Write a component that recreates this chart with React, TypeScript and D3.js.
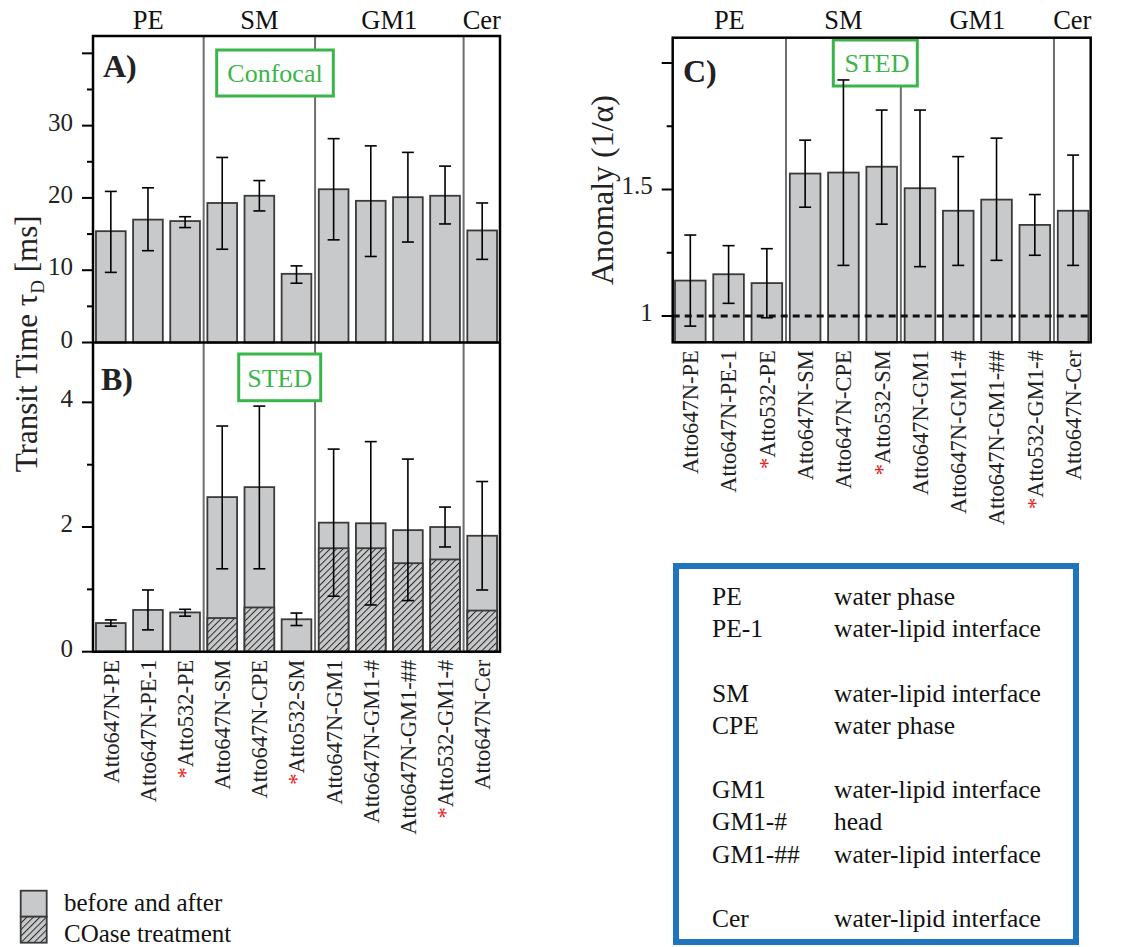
import React from "react";
import * as d3 from "d3";

// samples (a leading * is drawn as a red asterisk)
const samples = [
  "Atto647N-PE", "Atto647N-PE-1", "*Atto532-PE",
  "Atto647N-SM", "Atto647N-CPE", "*Atto532-SM",
  "Atto647N-GM1", "Atto647N-GM1-#", "Atto647N-GM1-##", "*Atto532-GM1-#",
  "Atto647N-Cer",
];
const lipidGroups = ["PE", "SM", "GM1", "Cer"];
const groupSizes = [3, 3, 4, 1];

// A) confocal transit time [ms]
const confocalTau = [15.4, 17.0, 16.8, 19.3, 20.3, 9.5, 21.2, 19.6, 20.1, 20.3, 15.5];
const confocalLow = [9.7, 12.7, 15.9, 12.9, 18.2, 8.2, 14.2, 11.9, 13.9, 16.4, 11.5];
const confocalHigh = [20.9, 21.4, 17.4, 25.6, 22.4, 10.6, 28.2, 27.2, 26.3, 24.4, 19.3];

// B) STED transit time [ms], hatched part = after COase treatment
const stedTau = [0.46, 0.67, 0.63, 2.48, 2.64, 0.52, 2.07, 2.06, 1.95, 2.0, 1.86];
const stedTauCOase = [0, 0, 0, 0.54, 0.71, 0, 1.66, 1.66, 1.42, 1.48, 0.66];
const stedLow = [0.41, 0.35, 0.57, 1.33, 1.33, 0.42, 0.89, 0.75, 0.82, 1.68, 0.99];
const stedHigh = [0.51, 0.99, 0.68, 3.62, 3.94, 0.62, 3.25, 3.37, 3.09, 2.32, 2.73];

// C) anomaly 1/alpha
const anomaly = [1.14, 1.165, 1.13, 1.563, 1.567, 1.59, 1.505, 1.416, 1.46, 1.36, 1.416];
const anomalyLow = [0.96, 1.05, 0.993, 1.43, 1.2, 1.363, 1.195, 1.2, 1.22, 1.24, 1.2];
const anomalyHigh = [1.32, 1.278, 1.266, 1.695, 1.933, 1.814, 1.814, 1.63, 1.703, 1.48, 1.636];

// probe position table
const legendKeys = ["PE", "PE-1", "", "SM", "CPE", "", "GM1", "GM1-#", "GM1-##", "", "Cer"];
const legendDesc = [
  "water phase", "water-lipid interface", "",
  "water-lipid interface", "water phase", "",
  "water-lipid interface", "head", "water-lipid interface", "",
  "water-lipid interface",
];

const FONT = "'Liberation Serif', 'DejaVu Serif', serif";
const BAR_FILL = "#c8c9cb";
const BAR_STROKE = "#3a3a3a";
const GREEN = "#3ab54a";
const BLUE = "#1f75bd";

function groupBounds(x) {
  // start / end pixel of each lipid group, halfway into the band gaps
  const gap = (x.step() - x.bandwidth()) / 2;
  let i = 0;
  return groupSizes.map((n, g) => {
    const first = i;
    const last = i + n - 1;
    i += n;
    const r = x.range();
    const a = g === 0 ? r[0] : x(first) - gap;
    const b = g === groupSizes.length - 1 ? r[1] : x(last) + x.bandwidth() + gap;
    return [a, b];
  });
}

function YAxis({ x0, y, major, minor, labels }) {
  return (
    <g>
      {major.map((v, i) => (
        <g key={"M" + v}>
          <line x1={x0 - 11} x2={x0} y1={y(v)} y2={y(v)} stroke="#000" strokeWidth={2} />
          {labels[i] !== "" && (
            <text x={x0 - 20} y={y(v)} dy="0.2em" textAnchor="end" fontSize={25} fill="#222">
              {labels[i]}
            </text>
          )}
        </g>
      ))}
      {minor.map((v) => (
        <line key={"m" + v} x1={x0 - 6} x2={x0} y1={y(v)} y2={y(v)} stroke="#000" strokeWidth={2} />
      ))}
    </g>
  );
}

function Bars({ x, y, values, low, high, hatched }) {
  const base = y.domain()[0];
  return (
    <g>
      {values.map((v, i) => (
        <rect key={"b" + i} x={x(i)} y={y(v)} width={x.bandwidth()} height={y(base) - y(v)}
          fill={BAR_FILL} stroke={BAR_STROKE} strokeWidth={1.8} />
      ))}
      {hatched && hatched.map((v, i) => v > 0 && (
        <rect key={"h" + i} x={x(i)} y={y(v)} width={x.bandwidth()} height={y(base) - y(v)}
          fill="url(#hatch)" stroke={BAR_STROKE} strokeWidth={1.8} />
      ))}
      {values.map((v, i) => {
        const cx = x(i) + x.bandwidth() / 2;
        return (
          <g key={"e" + i} stroke="#000" strokeWidth={1.6}>
            <line x1={cx} x2={cx} y1={y(high[i])} y2={y(low[i])} />
            <line x1={cx - 6} x2={cx + 6} y1={y(high[i])} y2={y(high[i])} />
            <line x1={cx - 6} x2={cx + 6} y1={y(low[i])} y2={y(low[i])} />
          </g>
        );
      })}
    </g>
  );
}

function Dividers({ x, y0, y1 }) {
  const b = groupBounds(x);
  return (
    <g>
      {b.slice(1).map((d, i) => (
        <line key={i} x1={d[0]} x2={d[0]} y1={y0} y2={y1} stroke="#6e6e6e" strokeWidth={2} />
      ))}
    </g>
  );
}

function GroupHeaders({ x, yText }) {
  const b = groupBounds(x);
  return (
    <g>
      {lipidGroups.map((g, i) => (
        <text key={g} x={(b[i][0] + b[i][1]) / 2} y={yText} textAnchor="middle" fontSize={26.5} fill="#111">
          {g}
        </text>
      ))}
    </g>
  );
}

function SampleLabels({ x, yTop }) {
  return (
    <g>
      {samples.map((s, i) => {
        const cx = x(i) + x.bandwidth() / 2;
        const star = s.startsWith("*");
        return (
          <text key={s} transform={`translate(${cx},${yTop}) rotate(-90)`} dy="0.35em"
            textAnchor="end" fontSize={22.5} fill="#222">
            {star && <tspan fill="#e8231f">*</tspan>}
            {star ? s.slice(1) : s}
          </text>
        );
      })}
    </g>
  );
}

function TagBox({ x, y, w, h, label, tx, ty }) {
  return (
    <g>
      <rect x={x} y={y} width={w} height={h} fill="#fff" stroke={GREEN} strokeWidth={3} />
      <text x={tx} y={ty} textAnchor="middle" fontSize={26} fill={GREEN}>{label}</text>
    </g>
  );
}

export default function App() {
  const idx = d3.range(samples.length);

  // left column (A + B)
  const L = { x0: 93, x1: 500, aTop: 36, mid: 342.5, bBot: 651.7 };
  const xL = d3.scaleBand().domain(idx).range([L.x0, L.x1]).paddingInner(0.2).paddingOuter(0.08);
  const yA = d3.scaleLinear().domain([0, 42.4]).range([L.mid, L.aTop]);
  const yB = d3.scaleLinear().domain([0, 4.96]).range([L.bBot, L.mid]);

  // right panel C
  const R = { x0: 672.7, x1: 1090.7, top: 37.7, bot: 342.3 };
  const xR = d3.scaleBand().domain(idx).range([R.x0, R.x1]).paddingInner(0.2).paddingOuter(0.06);
  const yC = d3.scaleLinear().domain([0.896, 2.1]).range([R.bot, R.top]);

  const tableRow = d3.scaleLinear().domain([0, 1]).range([605, 637.2]);

  return (
    <div style={{ position: "absolute", left: 0, top: 0 }}>
      <svg width={1128} height={947} viewBox="0 0 1128 947" fontFamily={FONT}
        style={{ display: "block", background: "#fff" }}>
        <defs>
          <pattern id="hatch" patternUnits="userSpaceOnUse" width={4.6} height={4.6}
            patternTransform="rotate(45)">
            <rect width={4.6} height={4.6} fill={BAR_FILL} />
            <line x1={0} y1={0} x2={0} y2={4.6} stroke="#2a2a2a" strokeWidth={2} />
          </pattern>
        </defs>

        {/* ---------- panel A ---------- */}
        <Dividers x={xL} y0={L.aTop} y1={L.mid} />
        <TagBox x={216.7} y={50} w={116.6} h={46} label="Confocal" tx={275} ty={82} />
        <Bars x={xL} y={yA} values={confocalTau} low={confocalLow} high={confocalHigh} />
        <YAxis x0={L.x0} y={yA} major={[0, 10, 20, 30, 40]} minor={[5, 15, 25, 35]}
          labels={["0", "10", "20", "30", ""]} />
        <text x={103} y={77} fontSize={32} fontWeight="bold" fill="#222">A)</text>
        <GroupHeaders x={xL} yText={29} />

        {/* ---------- panel B ---------- */}
        <Dividers x={xL} y0={L.mid} y1={L.bBot} />
        <TagBox x={238.7} y={354} w={82} h={46.7} label="STED" tx={279.7} ty={387} />
        <Bars x={xL} y={yB} values={stedTau} low={stedLow} high={stedHigh} hatched={stedTauCOase} />
        <YAxis x0={L.x0} y={yB} major={[0, 2, 4]} minor={[1, 3]} labels={["0", "2", "4"]} />
        <text x={101} y={390} fontSize={32} fontWeight="bold" fill="#222">B)</text>
        <rect x={L.x0} y={L.aTop} width={L.x1 - L.x0} height={L.bBot - L.aTop}
          fill="none" stroke="#000" strokeWidth={2.5} />
        <line x1={L.x0} x2={L.x1} y1={L.mid} y2={L.mid} stroke="#000" strokeWidth={2.5} />
        <SampleLabels x={xL} yTop={L.bBot + 8} />

        <text transform={`translate(37,${(L.aTop + L.bBot) / 2}) rotate(-90)`} textAnchor="middle"
          fontSize={31} fill="#222">
          Transit Time τ<tspan fontSize={19} dy={7}>D</tspan><tspan dy={-7}> [ms]</tspan>
        </text>

        {/* ---------- panel C ---------- */}
        <Dividers x={xR} y0={R.top} y1={R.bot} />
        <TagBox x={833.3} y={40} w={84} h={46} label="STED" tx={877} ty={72} />
        <Bars x={xR} y={yC} values={anomaly} low={anomalyLow} high={anomalyHigh} />
        <line x1={R.x0} x2={R.x1} y1={yC(1)} y2={yC(1)} stroke="#111" strokeWidth={3}
          strokeDasharray="7,5" />
        <YAxis x0={R.x0} y={yC} major={[1, 1.5, 2]} minor={[1.25, 1.75]} labels={["1", "1.5", ""]} />
        <rect x={R.x0} y={R.top} width={R.x1 - R.x0} height={R.bot - R.top}
          fill="none" stroke="#000" strokeWidth={2.5} />
        <text x={683} y={82} fontSize={32} fontWeight="bold" fill="#222">C)</text>
        <GroupHeaders x={xR} yText={29} />
        <SampleLabels x={xR} yTop={R.bot + 8} />
        <text transform={`translate(613,${(R.top + R.bot) / 2}) rotate(-90)`} textAnchor="middle"
          fontSize={32} fill="#222">
          Anomaly (1/α)
        </text>

        {/* ---------- probe position table ---------- */}
        <rect x={676} y={566} width={400} height={376} fill="#fff" stroke={BLUE} strokeWidth={6} />
        {legendKeys.map((k, i) => k !== "" && (
          <g key={"t" + i} fontSize={25.5} fill="#111">
            <text x={712} y={tableRow(i)}>{k}</text>
            <text x={834} y={tableRow(i)}>{legendDesc[i]}</text>
          </g>
        ))}

        {/* ---------- fill legend ---------- */}
        <rect x={20.7} y={890.7} width={26} height={26} fill={BAR_FILL} stroke={BAR_STROKE} strokeWidth={1.8} />
        <rect x={20.7} y={916.7} width={26} height={26} fill="url(#hatch)" stroke={BAR_STROKE} strokeWidth={1.8} />
        <text x={64} y={911} fontSize={25} fill="#111">before and after</text>
        <text x={64} y={942} fontSize={25} fill="#111">COase treatment</text>
      </svg>
    </div>
  );
}
